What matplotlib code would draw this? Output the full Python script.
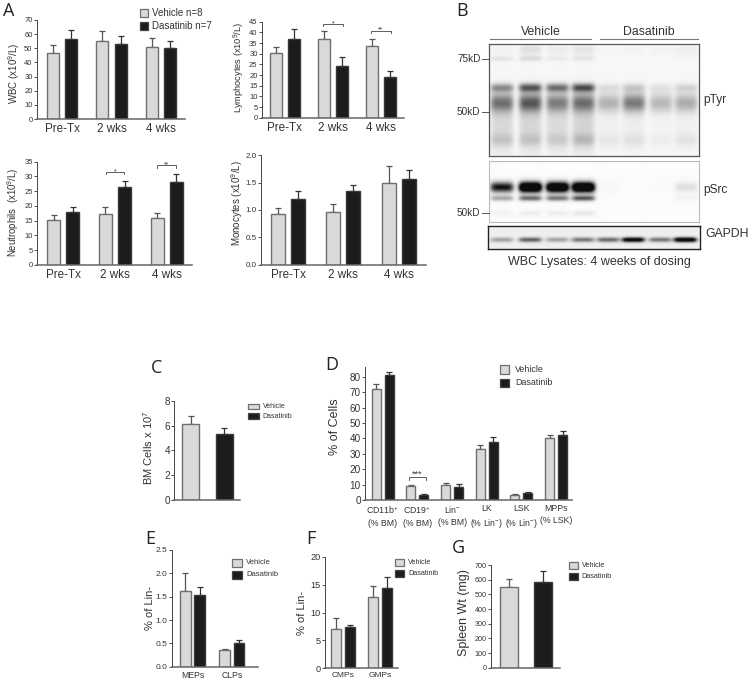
import numpy as np
import matplotlib
matplotlib.use('Agg')
import matplotlib.pyplot as plt
from matplotlib.patches import Rectangle

plt.rcParams['font.family'] = ['Liberation Sans', 'DejaVu Sans']
plt.rcParams['mathtext.fontset'] = 'custom'
plt.rcParams['mathtext.rm'] = 'Liberation Sans'
plt.rcParams['mathtext.default'] = 'regular'

W, H = 751, 683
LIGHT = '#d9d9d9'
DARK = '#1c1c1c'
TXT = '#333333'

# values (tops are the upper error bar ends)
weeks = ['Pre-Tx', '2 wks', '4 wks']
wbc_veh = [47, 55.5, 51]
wbc_veh_top = [52, 62, 57]
wbc_das = [56.5, 53, 50]
wbc_das_top = [63, 59, 55]
lym_veh = [30.5, 36.8, 33.5]
lym_veh_top = [33, 40.7, 36.8]
lym_das = [37, 24.3, 19.3]
lym_das_top = [41.5, 28.5, 22]
neu_veh = [15.2, 17.2, 15.8]
neu_veh_top = [17.1, 19.6, 17.7]
neu_das = [17.9, 26.4, 28.2]
neu_das_top = [19.5, 28.3, 31]
mon_veh = [0.93, 0.96, 1.5]
mon_veh_top = [1.04, 1.11, 1.8]
mon_das = [1.2, 1.34, 1.57]
mon_das_top = [1.34, 1.45, 1.73]

bm_veh = [6.1]
bm_veh_top = [6.8]
bm_das = [5.3]
bm_das_top = [5.8]

pop_labels = ['CD11b$^{+}$\n(% BM)', 'CD19$^{+}$\n(% BM)', 'Lin$^{-}$\n(% BM)',
              'LK\n(% Lin$^{-}$)', 'LSK\n(% Lin$^{-}$)', 'MPPs\n(% LSK)']
pop_veh = [72, 9, 9.5, 33, 3, 40]
pop_veh_top = [75, 9.6, 10.8, 35.7, 3.7, 42.2]
pop_das = [81, 3.5, 8.5, 37.5, 4.3, 42.3]
pop_das_top = [83, 4, 10.3, 41, 5, 44.7]

e_labels = ['MEPs', 'CLPs']
e_veh = [1.63, 0.35]
e_veh_top = [2.0, 0.37]
e_das = [1.53, 0.5]
e_das_top = [1.7, 0.57]

f_labels = ['CMPs', 'GMPs']
f_veh = [7.1, 12.8]
f_veh_top = [9, 14.8]
f_das = [7.3, 14.5]
f_das_top = [7.8, 16.4]

spl_veh = [548]
spl_veh_top = [606]
spl_das = [582]
spl_das_top = [660]

# blot bands: centre row, thickness, strength in each of the 8 lanes
lanes = [501.7, 530, 557, 582.7, 608, 633, 660, 685]
ptyr_bands = [
    (50, 4, [0.03, 0.10, 0.05, 0.08, 0.01, 0.02, 0.02, 0.04]),
    (59, 1.8, [0.08, 0.12, 0.05, 0.08, 0.00, 0.00, 0.00, 0.01]),
    (88, 3, [0.42, 0.65, 0.55, 0.70, 0.10, 0.18, 0.08, 0.14]),
    (103, 6.5, [0.52, 0.62, 0.46, 0.52, 0.28, 0.52, 0.26, 0.30]),
    (125, 20, [0.13, 0.14, 0.12, 0.15, 0.03, 0.04, 0.02, 0.03]),
    (140, 4.5, [0.13, 0.13, 0.11, 0.17, 0.05, 0.07, 0.03, 0.07]),
]
psrc_bands = [
    (187, 3.6, [1.0, 1.7, 1.6, 1.7, 0.02, 0.0, 0.01, 0.12]),
    (198, 1.9, [0.35, 0.6, 0.55, 0.7, 0.0, 0.0, 0.0, 0.04]),
    (213, 2, [0.04, 0.06, 0.06, 0.08, 0.0, 0.0, 0.0, 0.0]),
]
gapdh_bands = [
    (239.5, 1.7, [0.35, 0.65, 0.35, 0.55, 0.60, 1.2, 0.55, 1.3]),
]


def px_axes(left, top, right, bottom):
    return fig.add_axes([left / W, 1 - bottom / H, (right - left) / W, (bottom - top) / H])


def bar_panel(box, first, step, half, width, ylim, yticks, veh, veh_top, das, das_top,
              labels=None, tick_size=5.5, label_size=8.4, ylabels=None):
    left, top, right, bottom = box
    ax = px_axes(left, top, right, bottom)
    x = np.arange(len(veh))
    ax.set_xlim((left - first) / step, (right - first) / step)
    ax.set_ylim(*ylim)
    wd = width / step
    off = half / step
    ax.bar(x - off, veh, wd, color=LIGHT, edgecolor='#6f6f6f', linewidth=1.0, zorder=2)
    ax.bar(x + off, das, wd, color=DARK, edgecolor='#3a3a3a', linewidth=1.0, zorder=2)
    ax.errorbar(x - off, veh, yerr=[np.zeros(len(veh)), np.array(veh_top) - np.array(veh)],
                fmt='none', ecolor='#555555', elinewidth=0.9, capsize=2.2, capthick=0.9, zorder=1)
    ax.errorbar(x + off, das, yerr=[np.zeros(len(das)), np.array(das_top) - np.array(das)],
                fmt='none', ecolor='#333333', elinewidth=0.9, capsize=2.2, capthick=0.9, zorder=1)
    for s in ['top', 'right']:
        ax.spines[s].set_visible(False)
    ax.spines['left'].set_color('#444444')
    ax.spines['left'].set_linewidth(0.7)
    ax.spines['bottom'].set_color('#666666')
    ax.spines['bottom'].set_linewidth(1.1)
    ax.set_yticks(yticks)
    if ylabels is not None:
        ax.set_yticklabels(ylabels)
    ax.tick_params(axis='y', labelsize=tick_size, length=2, width=0.6, pad=1, colors=TXT)
    if labels is None:
        ax.set_xticks([])
    else:
        ax.set_xticks(x)
        ax.set_xticklabels(labels, fontsize=label_size, color=TXT, linespacing=1.45)
        ax.tick_params(axis='x', length=0, pad=3)
    return ax


def blot(left, top, right, bottom, bands, back, edge, lw):
    ax = px_axes(left, top, right, bottom)
    xs = np.arange(left, right, 0.5)
    ys = np.arange(top, bottom, 0.5)
    img = np.zeros((len(ys), len(xs)))
    for row, thick, strength in bands:
        prof = np.exp(-0.5 * ((ys - row) / thick) ** 2)
        for lane, s in zip(lanes, strength):
            shape = np.exp(-np.abs((xs - lane) / 11.5) ** 5)
            img += s * np.outer(prof, shape)
    img = back - np.clip(img, 0, 1) * (back - 0.05)
    ax.imshow(img, cmap='gray', vmin=0, vmax=1, aspect='auto', interpolation='bilinear')
    ax.set_xticks([])
    ax.set_yticks([])
    for s in ax.spines.values():
        s.set_color(edge)
        s.set_linewidth(lw)


def legend_marks(x0, x1, y_pairs, size, labels, text_x):
    for (y0, y1), col, ec, lab in zip(y_pairs, [LIGHT, DARK], ['#6f6f6f', '#444444'], labels):
        ov.add_patch(Rectangle((x0, y0), x1 - x0, y1 - y0, facecolor=col, edgecolor=ec, linewidth=0.9))
        ov.text(text_x, (y0 + y1) / 2, lab, fontsize=size, color=TXT, va='center', ha='left')


def bracket(x0, x1, y, drop, stars, size=5, lift=0.5):
    ov.plot([x0, x0, x1, x1], [y + drop, y, y, y + drop], color='#444444', lw=0.6)
    ov.text((x0 + x1) / 2, y - lift, stars, fontsize=size, color=TXT, ha='center', va='center')


fig = plt.figure(figsize=(W / 100, H / 100), dpi=100, facecolor='white')

wk_ticks = 8.4
bar_panel((36.7, 20, 185, 119), 62, 49.5, 9.2, 12.3, (0, 70), range(0, 71, 10),
          wbc_veh, wbc_veh_top, wbc_das, wbc_das_top, weeks, label_size=wk_ticks)
bar_panel((261.7, 21.7, 404, 117.7), 285, 47.8, 9, 12, (0, 45), range(0, 46, 5),
          lym_veh, lym_veh_top, lym_das, lym_das_top, weeks, label_size=wk_ticks)
bar_panel((37.3, 161.7, 191.7, 265), 63.3, 51.7, 9.6, 13, (0, 35), range(0, 36, 5),
          neu_veh, neu_veh_top, neu_das, neu_das_top, weeks, label_size=wk_ticks)
bar_panel((261, 155, 426, 265), 288, 55.3, 10, 13.8, (0, 2), np.arange(0, 2.1, 0.5),
          mon_veh, mon_veh_top, mon_das, mon_das_top, weeks, label_size=wk_ticks, tick_size=5.8,
          ylabels=['0.0', '0.5', '1.0', '1.5', '2.0'])

bar_panel((174.3, 400.7, 240, 500), 207.5, 40, 16.7, 16.7, (0, 8), range(0, 9, 2),
          bm_veh, bm_veh_top, bm_das, bm_das_top, tick_size=7.2)
bar_panel((365, 367, 571.7, 500), 382.7, 34.7, 6.5, 9, (0, 86.3), range(0, 81, 10),
          pop_veh, pop_veh_top, pop_das, pop_das_top, pop_labels, tick_size=7.2, label_size=6.3)
bar_panel((171.7, 550, 258, 666.7), 192.5, 39.3, 7.2, 10.7, (0, 2.5), np.arange(0, 2.6, 0.5),
          e_veh, e_veh_top, e_das, e_das_top, e_labels, tick_size=6, label_size=6.2,
          ylabels=['0.0', '0.5', '1.0', '1.5', '2.0', '2.5'])
bar_panel((325, 557, 398, 668), 343, 37, 7, 10, (0, 20), range(0, 21, 5),
          f_veh, f_veh_top, f_das, f_das_top, f_labels, tick_size=6.6, label_size=6)
bar_panel((491, 565, 560, 667.7), 526, 40, 17.3, 17.7, (0, 700), range(0, 701, 100),
          spl_veh, spl_veh_top, spl_das, spl_das_top, tick_size=5.2)

blot(489, 43.7, 699, 156, ptyr_bands, 0.97, '#555555', 0.9)
blot(489, 161, 699, 222, psrc_bands, 0.985, '#bbbbbb', 0.8)
blot(488, 226, 700, 249, gapdh_bands, 0.94, '#222222', 1.0)

# overlay in pixel coordinates for letters, legends and annotations
ov = fig.add_axes([0, 0, 1, 1], zorder=10)
ov.set_xlim(0, W)
ov.set_ylim(H, 0)
ov.axis('off')
ov.patch.set_alpha(0)

for lab, x, y in [('A', 9, 10.5), ('B', 462, 10.5), ('C', 157, 368), ('D', 332, 364.5),
                  ('E', 150, 539.5), ('F', 311, 539), ('G', 458, 548)]:
    ov.text(x, y, lab, fontsize=13, family='Open Sans', color='#222222', ha='center', va='center')

legend_marks(140, 148, [(8.5, 17), (21.5, 30)], 7, ['Vehicle n=8', 'Dasatinib n=7'], 152)
legend_marks(248, 259, [(403.5, 409), (413, 419)], 5, ['Vehicle', 'Dasatinib'], 262.7)
legend_marks(499.5, 509, [(365, 373.5), (378.5, 387)], 6.4, ['Vehicle', 'Dasatinib'], 515)
legend_marks(232, 242, [(559, 567), (571, 579)], 5.5, ['Vehicle', 'Dasatinib'], 246)
legend_marks(395, 404, [(559, 566), (570, 577)], 5.2, ['Vehicle', 'Dasatinib'], 408)
legend_marks(568.5, 578, [(562, 569), (573, 580)], 5.2, ['Vehicle', 'Dasatinib'], 581.7)

for lab, x, y, size in [('WBC (x10$^{9}$/L)', 14, 73, 7),
                        ('Lymphocytes (x10$^{9}$/L)', 239.5, 67, 6.7),
                        ('Neutrophils  (x10$^{9}$/L)', 13, 212, 6.9),
                        ('Monocytes (x10$^{9}$/L)', 237.5, 203, 7),
                        ('BM Cells x 10$^{7}$', 148, 448, 8),
                        ('% of Cells', 335, 427, 9),
                        ('% of Lin-', 150, 608, 8),
                        ('% of Lin-', 302, 613, 8),
                        ('Spleen Wt (mg)', 464, 613, 9)]:
    ov.text(x, y, lab, fontsize=size, color=TXT, rotation=90, ha='center', va='center')

bracket(323, 343, 24, 2, '*')
bracket(371, 391, 30.7, 2, '**')
bracket(106, 124, 172, 2, '*')
bracket(157, 176, 165, 2.5, '**')
bracket(409, 426, 477, 3, '***', 6.5, 3)

# blot annotation
ov.plot([490, 591], [39, 39], color='#777777', lw=0.8)
ov.plot([600, 698], [39, 39], color='#777777', lw=0.8)
ov.text(541, 32, 'Vehicle', fontsize=8.8, color=TXT, ha='center', va='center')
ov.text(649, 32, 'Dasatinib', fontsize=8.8, color=TXT, ha='center', va='center')
for lab, y in [('75kD', 59), ('50kD', 112), ('50kD', 213)]:
    ov.text(480.5, y, lab, fontsize=7.2, color=TXT, ha='right', va='center')
    ov.plot([482, 488.5], [y, y], color='#555555', lw=0.7)
ov.text(703, 100, 'pTyr', fontsize=8.6, color=TXT, ha='left', va='center')
ov.text(703, 190, 'pSrc', fontsize=8.6, color=TXT, ha='left', va='center')
ov.text(705, 234, 'GAPDH', fontsize=8.8, color=TXT, ha='left', va='center')
ov.text(599, 262, 'WBC Lysates: 4 weeks of dosing', fontsize=9, color=TXT, ha='center', va='center')

fig.savefig('out.png', dpi=100)
